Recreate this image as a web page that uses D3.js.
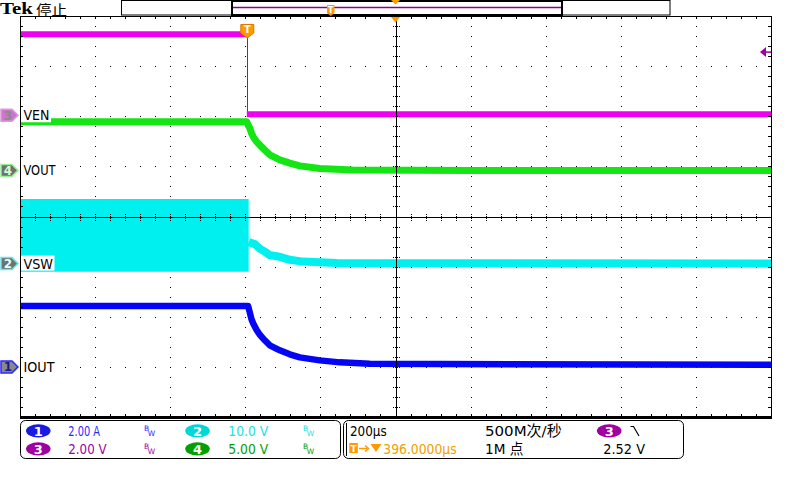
<!DOCTYPE html>
<html><head><meta charset="utf-8">
<script src="https://cdn.jsdelivr.net/npm/d3@7"></script>
<style>html,body{margin:0;padding:0;background:#fff;}svg{display:block}</style>
</head><body><svg id="c" width="800" height="480"></svg>
<script>
// ---------------- data ----------------
const timePerDivUs = 200;
const triggerDelayUs = 396;
const channelNames = ["IOUT", "VSW", "VEN", "VOUT"];
const channelNumbers = ["1", "2", "3", "4"];
const scaleLabels = ["2.00 A", "10.0 V", "2.00 V", "5.00 V"];
const unitsPerDiv = [2.0, 10.0, 2.0, 5.0];
const offsetDiv = [-3.0, -0.94, 2.02, 0.92];
const triggerLevelV = 2.52;
const horizLabel = "200µs";
const delayLabel = "396.0000µs";
const sampleRateLabel = "500M次/秒";
const recordLabel = "1M 点";
const trigLevelLabel = "2.52 V";

// CH3 VEN (V)
const venTime  = [-604, 0, 0, 1396];
const venValue = [3.23, 3.23, 0.04, 0.04];
// CH4 VOUT (V)
const voutTime  = [-604, 0, 3.5, 8, 12.5, 16.8, 25.8, 34.6, 47.9, 61.2, 87.9, 114.5, 141.1, 194.3, 282, 600, 1396];
const voutValue = [4.84, 4.84, 4.54, 4.21, 3.71, 3.37, 2.87, 2.54, 2.04, 1.55, 1.05, 0.72, 0.45, 0.18, 0.05, 0.0, -0.02];
// CH2 VSW switching envelope before turn-off (V)
const vswBandTime = [-604, 5];
const vswBandHigh = [12.87, 12.87];
const vswBandLow  = [-1.6, -1.6];
// CH2 VSW after turn-off (V)
const vswTime  = [5.3, 21.3, 34.6, 47.9, 61.2, 87.9, 114.5, 149.1, 239.6, 1396];
const vswValue = [4.29, 3.89, 2.99, 2.39, 1.70, 1.36, 0.76, 0.40, 0.10, 0.0];
// CH1 IOUT (A)
const ioutTime  = [-604, 0, 3.5, 8, 12.5, 16.8, 25.8, 34.6, 47.9, 61.2, 87.9, 114.5, 141.1, 194.3, 247.6, 327.5, 1396];
const ioutValue = [2.43, 2.43, 2.43, 2.17, 1.90, 1.74, 1.48, 1.28, 1.06, 0.86, 0.66, 0.50, 0.38, 0.26, 0.18, 0.12, 0.08];

// ---------------- layout ----------------
const L = 20, R = 771, T = 16, B = 417;
const svg = d3.select("#c");
const xDiv = d3.scaleLinear().domain([-5, 5]).range([L, R]);
const yDiv = d3.scaleLinear().domain([-4, 4]).range([B, T]);
const xT = d3.scaleLinear()
  .domain([triggerDelayUs - 5 * timePerDivUs, triggerDelayUs + 5 * timePerDivUs]).range([L, R]);
const yCh = i => d3.scaleLinear()
  .domain([(-4 - offsetDiv[i]) * unitsPerDiv[i], (4 - offsetDiv[i]) * unitsPerDiv[i]]).range([B, T]);

const colTrace = ["#0505f5", "#00f0f0", "#f000f0", "#14e614"];
const colBadge = ["#1a1ae0", "#00d8d8", "#a000a0", "#00a000"];
const colText  = ["#2828ff", "#1ee0e0", "#a000a0", "#00a000"];
const orange = "#ff9900";
const FONT = "'DejaVu Sans', 'Noto Sans CJK SC', sans-serif";

function text(g, x, y, s, o = {}) {
  const t = g.append("text").attr("x", x).attr("y", y).text(s)
    .attr("font-family", o.family || FONT).attr("font-size", o.size || 14)
    .attr("fill", o.fill || "#000").attr("font-weight", o.weight || "normal")
    .attr("text-anchor", o.anchor || "start");
  if (o.len) t.attr("textLength", o.len).attr("lengthAdjust", "spacingAndGlyphs");
  return t;
}

// ---------------- grid dots ----------------
const gGrid = svg.append("g");
const minorX = d3.range(-25, 26).map(k => k / 5);
const minorY = d3.range(-20, 21).map(k => k / 5);
const majorX = [-4, -3, -2, -1, 1, 2, 3, 4];
const majorY = [-3, -2, -1, 1, 2, 3];
majorX.forEach(k => minorY.forEach(m => {
  if (Math.abs(m) >= 4) return;
  gGrid.append("rect").attr("x", Math.round(xDiv(k))).attr("y", Math.round(yDiv(m)))
    .attr("width", 1).attr("height", 1).attr("fill", "#000");
}));
majorY.forEach(k => minorX.forEach(m => {
  if (Math.abs(m) >= 5) return;
  gGrid.append("rect").attr("x", Math.round(xDiv(m))).attr("y", Math.round(yDiv(k)))
    .attr("width", 1).attr("height", 1).attr("fill", "#000");
}));

// ---------------- traces ----------------
svg.append("clipPath").attr("id", "plot").append("rect")
  .attr("x", L).attr("y", T).attr("width", R - L).attr("height", B - T);
const gTr = svg.append("g").attr("clip-path", "url(#plot)");

function pts(ts, vs) { return ts.map((t, i) => [t, vs[i]]); }
function drawLine(i, ts, vs, w) {
  const y = yCh(i);
  const line = d3.line().x(d => xT(d[0])).y(d => y(d[1]));
  gTr.append("path").attr("d", line(pts(ts, vs))).attr("fill", "none")
    .attr("stroke", colTrace[i]).attr("stroke-width", w)
    .attr("stroke-linejoin", "round");
}

// VSW band (switching) + decay
{
  const y = yCh(1);
  const area = d3.area().x(d => xT(d[0])).y0(d => y(d[2])).y1(d => y(d[1]));
  gTr.append("path").attr("d", area(vswBandTime.map((t, k) => [t, vswBandHigh[k], vswBandLow[k]])))
    .attr("fill", colTrace[1]);
  drawLine(1, vswTime, vswValue, 8);
}
// IOUT
drawLine(0, ioutTime, ioutValue, 6.5);
// VOUT
drawLine(3, voutTime, voutValue, 7);
// VEN: thick plateaus, thin fast edge
{
  const y = yCh(2);
  let seg = [[venTime[0], venValue[0]]];
  for (let k = 1; k < venTime.length; k++) {
    if (venTime[k] === venTime[k - 1]) {
      gTr.append("path").attr("d", d3.line().x(d => xT(d[0])).y(d => y(d[1]))(seg))
        .attr("fill", "none").attr("stroke", colTrace[2]).attr("stroke-width", 6);
      gTr.append("line").attr("x1", Math.round(xT(venTime[k])) + 0.5).attr("x2", Math.round(xT(venTime[k])) + 0.5)
        .attr("y1", y(venValue[k - 1])).attr("y2", y(venValue[k]))
        .attr("stroke", "#8b1a8b").attr("stroke-width", 1);
      seg = [];
    }
    seg.push([venTime[k], venValue[k]]);
  }
  gTr.append("path").attr("d", d3.line().x(d => xT(d[0])).y(d => y(d[1]))(seg))
    .attr("fill", "none").attr("stroke", colTrace[2]).attr("stroke-width", 6);
}

// ---------------- crosshair & edge ticks ----------------
const gAx = svg.append("g");
const cx = Math.round(xDiv(0)) + 0.5, cy = Math.round(yDiv(0)) + 0.5;
gAx.append("line").attr("x1", cx).attr("x2", cx).attr("y1", T).attr("y2", B).attr("stroke", "#000");
gAx.append("line").attr("x1", L).attr("x2", R).attr("y1", cy).attr("y2", cy).attr("stroke", "#000");
minorY.forEach(m => {
  if (Math.abs(m) >= 4 || m === 0) return;
  const yy = Math.round(yDiv(m)) + 0.5;
  gAx.append("line").attr("x1", cx - 3.5).attr("x2", cx + 3.5).attr("y1", yy).attr("y2", yy)
    .attr("stroke", "#000").attr("stroke-dasharray", "1,1");
  gAx.append("line").attr("x1", L).attr("x2", L + 3).attr("y1", yy).attr("y2", yy).attr("stroke", "#000");
  gAx.append("line").attr("x1", R - 3).attr("x2", R).attr("y1", yy).attr("y2", yy).attr("stroke", "#000");
});
minorX.forEach(m => {
  if (Math.abs(m) >= 5 || m === 0) return;
  const xx = Math.round(xDiv(m)) + 0.5;
  gAx.append("line").attr("x1", xx).attr("x2", xx).attr("y1", cy - 3.5).attr("y2", cy + 3.5)
    .attr("stroke", "#000").attr("stroke-dasharray", "1,1");
  gAx.append("line").attr("x1", xx).attr("x2", xx).attr("y1", T).attr("y2", T + 3).attr("stroke", "#000");
  gAx.append("line").attr("x1", xx).attr("x2", xx).attr("y1", B - 3).attr("y2", B).attr("stroke", "#000");
});
// border
gAx.append("rect").attr("x", L + 0.5).attr("y", T + 0.5).attr("width", R - L).attr("height", B - T)
  .attr("fill", "none").attr("stroke", "#000");
gAx.append("line").attr("x1", L).attr("x2", R + 1).attr("y1", B + 0.5).attr("y2", B + 0.5)
  .attr("stroke", "#000").attr("stroke-width", 3);

// ---------------- markers ----------------
const gM = svg.append("g");
const tx = xT(0);
// trigger position marker
gM.append("path")
  .attr("d", `M${tx - 6},24.5 L${tx + 7},24.5 L${tx + 7},33 L${tx + 0.5},38 L${tx - 6},33 Z`)
  .attr("fill", orange).attr("stroke", "#e07800").attr("stroke-width", 1);
text(gM, tx + 0.5, 33, "T", { size: 10, fill: "#fff", anchor: "middle", weight: "bold" });
// expansion point triangle on grid top
const ex = xDiv(0);
gM.append("path").attr("d", `M${ex - 4.5},17 L${ex + 4.5},17 L${ex},22.5 Z`).attr("fill", orange);
// trigger level arrow
{
  const yl = yCh(2)(triggerLevelV);
  gM.append("path").attr("d", `M${R - 11},${yl} L${R - 5},${yl - 5} L${R - 5},${yl + 5} Z`).attr("fill", "#a000a0");
  gM.append("line").attr("x1", R - 5).attr("x2", R).attr("y1", yl).attr("y2", yl).attr("stroke", "#a000a0").attr("stroke-width", 1.5);
}
// channel ground markers + labels
const markFill   = ["#8a8a8a", "#707070", "#cc77cc", "#707070"];
const markStroke = ["#2a2aff", "#66e6e6", "#dd99dd", "#99ee99"];
const markText   = ["#1a1a8a", "#e0ffff", "#8a8a8a", "#ccffcc"];
const labelLen = [31, 29.5, 26, 32];
[2, 3, 1, 0].forEach(i => {
  const y0 = yCh(i)(0);
  gM.append("path").attr("d", `M1,${y0 - 6} L12,${y0 - 6} L18,${y0} L12,${y0 + 6} L1,${y0 + 6} Z`)
    .attr("fill", markFill[i]).attr("stroke", markStroke[i]).attr("stroke-width", 1.5);
  text(gM, 8, y0 + 4.5, channelNumbers[i], { size: 12, fill: markText[i], anchor: "middle", weight: "bold" });
  const lw = labelLen[i];
  gM.append("rect").attr("x", 21).attr("y", y0 - 8).attr("width", lw + 4).attr("height", 15).attr("fill", "#fff");
  text(gM, 23.5, y0 + 5, channelNames[i], { size: 13.5, fill: "#000", len: lw });
});

// ---------------- header ----------------
const gH = svg.append("g");
text(gH, 0, 13.5, "Tek", { family: "'Liberation Serif', serif", size: 17, weight: "bold", len: 33 });
text(gH, 36, 15, "停止", { family: "'Noto Sans CJK SC', sans-serif", size: 14, len: 31 });
gH.append("rect").attr("x", 121.5).attr("y", 0.5).attr("width", 548.5).attr("height", 14.5)
  .attr("fill", "#fff").attr("stroke", "#000");
gH.append("rect").attr("x", 232).attr("y", 1).attr("width", 330).attr("height", 14)
  .attr("fill", "none").attr("stroke", "#000").attr("stroke-width", 2);
gH.append("line").attr("x1", 233).attr("x2", 561).attr("y1", 7.5).attr("y2", 7.5)
  .attr("stroke", "#8b008b").attr("stroke-width", 1.5);
gH.append("path").attr("d", "M327,5 L334.5,5 L334.5,13 L330.75,16 L327,13 Z").attr("fill", orange);
text(gH, 330.75, 12.5, "T", { size: 8, fill: "#fff", anchor: "middle", weight: "bold" });
gH.append("path").attr("d", `M${ex - 4.5},0 L${ex + 4.5},0 L${ex},4.5 Z`).attr("fill", orange);

// ---------------- info panels ----------------
const gP = svg.append("g");
gP.append("rect").attr("x", 20.5).attr("y", 420.5).attr("width", 320).attr("height", 38).attr("rx", 5)
  .attr("fill", "#fff").attr("stroke", "#000");
gP.append("rect").attr("x", 343.5).attr("y", 420.5).attr("width", 340).attr("height", 38).attr("rx", 5)
  .attr("fill", "#fff").attr("stroke", "#000");
gP.append("line").attr("x1", 346.5).attr("x2", 346.5).attr("y1", 423).attr("y2", 456).attr("stroke", "#000");

const rowBase = [436, 454];
const rowMid = [430.8, 448.8];
const colBadgeX = [38.3, 197.5];
const scaleX = [68.3, 228.3];
const scaleLen = [31.7, 40, 38.3, 40];
const bwX = [144, 303];
[0, 1, 2, 3].forEach(i => {
  const r = i === 0 || i === 1 ? 0 : 1;
  const c = i === 0 || i === 2 ? 0 : 1;
  gP.append("ellipse").attr("cx", colBadgeX[c]).attr("cy", rowMid[r]).attr("rx", 12.3).attr("ry", 6.6)
    .attr("fill", colBadge[i]);
  text(gP, colBadgeX[c], rowMid[r] + 5, channelNumbers[i], { size: 13, fill: "#fff", anchor: "middle", weight: "bold" });
  text(gP, scaleX[c], rowBase[r], scaleLabels[i], { size: 14.5, fill: colText[i], len: scaleLen[i] });
  text(gP, bwX[c], rowBase[r] - 5, "B", { size: 7.5, fill: colText[i] });
  text(gP, bwX[c] + 3.8, rowBase[r], "W", { size: 7.5, fill: colText[i] });
});
text(gP, 350, rowBase[0], horizLabel, { size: 14.5, len: 36.7 });
text(gP, 485, rowBase[0], sampleRateLabel, { size: 14.5, len: 76.7 });
gP.append("ellipse").attr("cx", 609.2).attr("cy", rowMid[0]).attr("rx", 12.3).attr("ry", 6.6).attr("fill", colBadge[2]);
text(gP, 609.2, rowMid[0] + 5, channelNumbers[2], { size: 13, fill: "#fff", anchor: "middle", weight: "bold" });
gP.append("path").attr("d", "M630.5,426.5 L633.5,426.5 L639,436").attr("fill", "none").attr("stroke", "#000").attr("stroke-width", 1.2);
// delay line
gP.append("rect").attr("x", 349.3).attr("y", 443).attr("width", 8.5).attr("height", 10).attr("fill", orange);
text(gP, 353.5, 451.5, "T", { size: 9, fill: "#fff", anchor: "middle", weight: "bold" });
gP.append("line").attr("x1", 359).attr("x2", 367).attr("y1", 448.5).attr("y2", 448.5).attr("stroke", orange).attr("stroke-width", 1.5);
gP.append("path").attr("d", "M365,445.5 L368.5,448.5 L365,451.5").attr("fill", "none").attr("stroke", orange).attr("stroke-width", 1.5);
gP.append("path").attr("d", "M370.5,444 L381.5,444 L376,452 Z").attr("fill", orange);
text(gP, 383.3, rowBase[1], delayLabel, { size: 14.5, fill: "#f0a000", len: 73.3 });
text(gP, 485, rowBase[1], recordLabel, { size: 14.5, len: 38.3 });
text(gP, 603.3, rowBase[1], trigLevelLabel, { size: 14.5, len: 41.7 });
</script>
</body></html>
